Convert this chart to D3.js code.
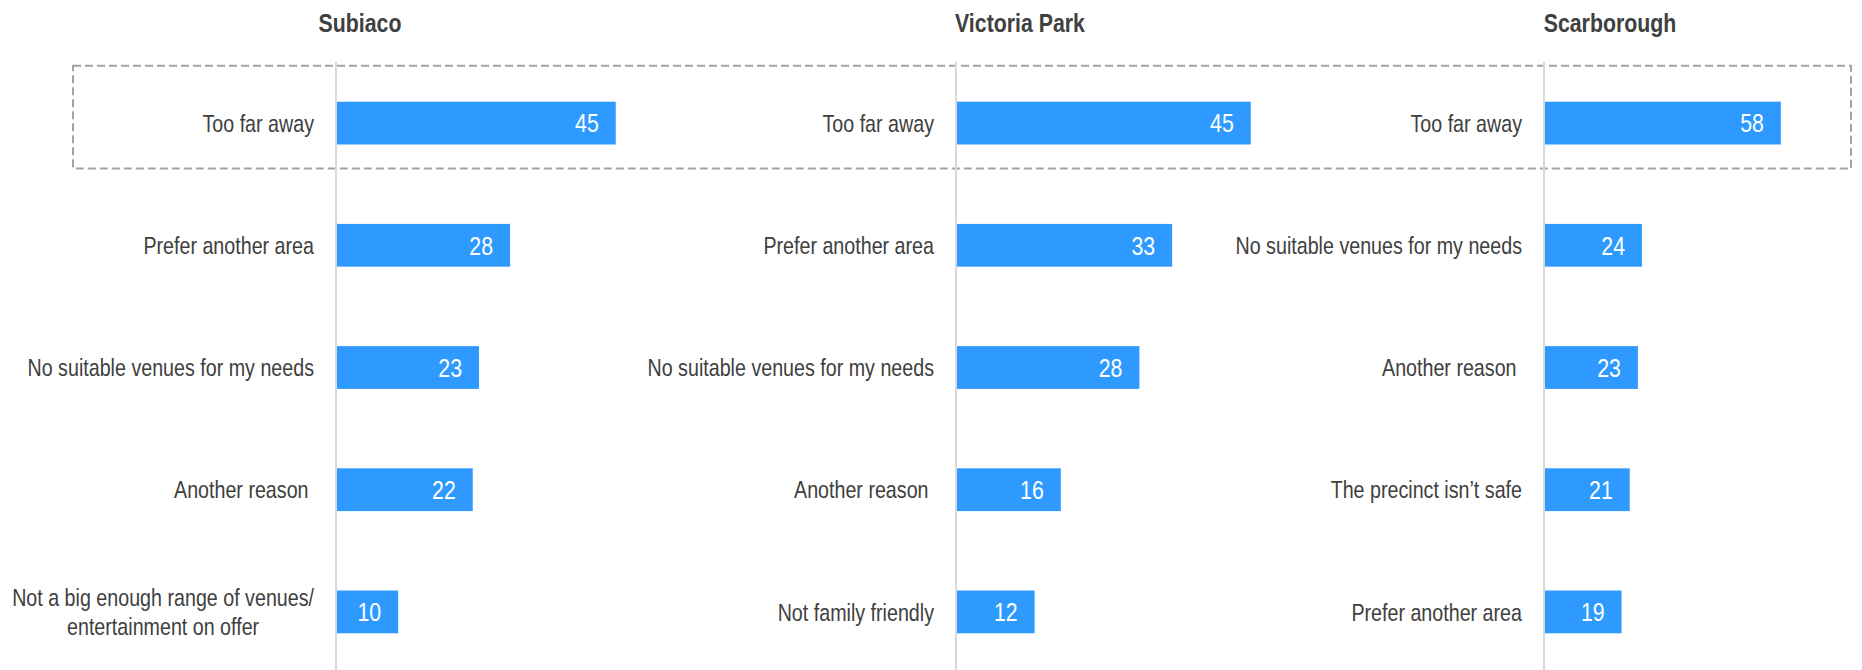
<!DOCTYPE html>
<html>
<head>
<meta charset="utf-8">
<script src="https://cdn.jsdelivr.net/npm/d3@7"></script>
<style>
  html, body { margin: 0; padding: 0; background: #ffffff; }
  svg { display: block; }
  text { font-family: "Liberation Sans", Arial, sans-serif; }
</style>
</head>
<body>
<div id="chart"></div>
<script>
// ---- Data ----
const panelTitles = ["Subiaco", "Victoria Park", "Scarborough"];

const subiacoLabels = ["Too far away", "Prefer another area", "No suitable venues for my needs", "Another reason ", "Not a big enough range of venues/\nentertainment on offer"];
const subiacoValues = [45, 28, 23, 22, 10];

const victoriaParkLabels = ["Too far away", "Prefer another area", "No suitable venues for my needs", "Another reason ", "Not family friendly"];
const victoriaParkValues = [45, 33, 28, 16, 12];

const scarboroughLabels = ["Too far away", "No suitable venues for my needs", "Another reason ", "The precinct isn\u2019t safe", "Prefer another area"];
const scarboroughValues = [58, 24, 23, 21, 19];

const valueDomain = [0, 60];

// ---- Layout ----
const W = 1862, H = 670;
const NARROW = 0.82; // horizontal squeeze to emulate a narrow typeface
const panels = [
  { title: panelTitles[0], labels: subiacoLabels, values: subiacoValues, axisX: 336, span: 373, titleX: 360 },
  { title: panelTitles[1], labels: victoriaParkLabels, values: victoriaParkValues, axisX: 956, span: 393, titleX: 1020 },
  { title: panelTitles[2], labels: scarboroughLabels, values: scarboroughValues, axisX: 1544, span: 245, titleX: 1610 }
];

const svg = d3.select("#chart").append("svg").attr("width", W).attr("height", H);

// text placed at (x,y) and squeezed horizontally around its anchor
function narrowText(parent, x, y, str, opts) {
  const g = parent.append("g").attr("transform", `translate(${x},${y}) scale(${NARROW},1)`);
  const t = g.append("text")
    .attr("xml:space", "preserve")
    .attr("x", 0).attr("y", 0)
    .attr("dy", opts.dy || "0.36em")
    .attr("text-anchor", opts.anchor || "start")
    .attr("font-size", opts.size)
    .attr("font-weight", opts.weight || "normal")
    .attr("fill", opts.fill)
    .text(str);
  return t;
}

const y = d3.scaleBand()
  .domain(d3.range(5))
  .range([62, 673])
  .paddingInner(0.65)
  .paddingOuter(0.325);

// highlight box around first row
svg.append("rect")
  .attr("x", 73)
  .attr("y", y(0) - 36)
  .attr("width", 1851 - 73)
  .attr("height", y.bandwidth() + 60)
  .attr("fill", "none")
  .attr("stroke", "#a3a3a3")
  .attr("stroke-width", 2)
  .attr("stroke-dasharray", "8,4");

panels.forEach(p => {
  const x = d3.scaleLinear().domain(valueDomain).range([p.axisX, p.axisX + p.span]);
  const g = svg.append("g");

  // title
  narrowText(g, p.titleX, 32, p.title, { anchor: "middle", size: 26, weight: "bold", fill: "#404040", dy: "0" });

  // bars
  g.selectAll("rect.bar").data(p.values).join("rect")
    .attr("class", "bar")
    .attr("x", x(0))
    .attr("y", (d, i) => y(i))
    .attr("width", d => x(d) - x(0))
    .attr("height", y.bandwidth())
    .attr("fill", "#2e9aff");

  // values
  p.values.forEach((v, i) => {
    narrowText(g, x(v) - 17, y(i) + y.bandwidth() / 2, String(v), { anchor: "end", size: 26, fill: "#ffffff" });
  });

  // axis line
  g.append("line")
    .attr("x1", x(0)).attr("x2", x(0))
    .attr("y1", 62).attr("y2", H)
    .attr("stroke", "#d9d9d9")
    .attr("stroke-width", 2);

  // category labels
  p.labels.forEach((lab, i) => {
    const lines = lab.split("\n");
    const cy = y(i) + y.bandwidth() / 2;
    if (lines.length === 1) {
      narrowText(g, x(0) - 22, cy, lab, { anchor: "end", size: 24, fill: "#404040" });
    } else {
      const lh = 29;
      const texts = lines.map((ln, k) =>
        narrowText(g, 0, cy + (k - (lines.length - 1) / 2) * lh, ln, { anchor: "middle", size: 24, fill: "#404040" }));
      const maxW = d3.max(texts, t => t.node().getComputedTextLength()) * NARROW;
      const cx = x(0) - 22 - maxW / 2;
      texts.forEach((t, k) => {
        d3.select(t.node().parentNode)
          .attr("transform", `translate(${cx},${cy + (k - (lines.length - 1) / 2) * lh}) scale(${NARROW},1)`);
      });
    }
  });
});
</script>
</body>
</html>
